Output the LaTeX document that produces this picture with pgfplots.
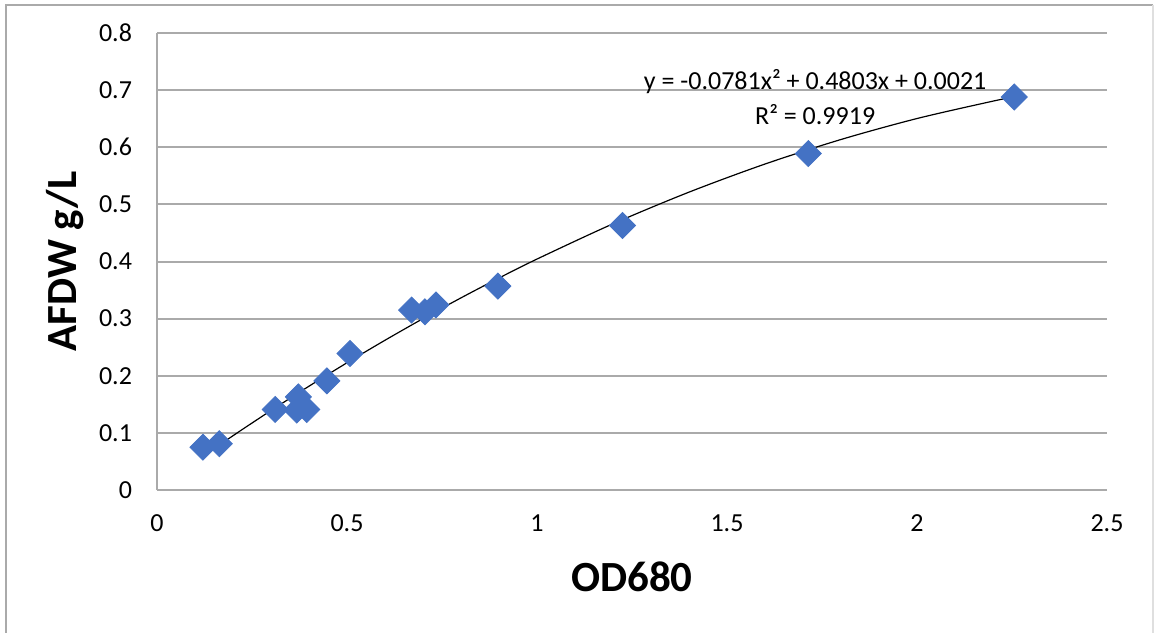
\documentclass[border=0pt]{standalone}
\usepackage{pgfplots}
\pgfplotsset{compat=1.18}
\usepackage{fontspec}
\setmainfont{Carlito}
\definecolor{ptblue}{RGB}{68,114,196}
\definecolor{gridgray}{RGB}{170,170,170}
\begin{document}
\begin{tikzpicture}
\useasboundingbox (0,0) rectangle (577pt,316pt);
\draw[gridgray, line width=1pt] (3pt,-5pt) -- (3pt,313.5pt) -- (576.5pt,313.5pt);
\draw[gray!25, line width=1pt] (576.5pt,313.5pt) -- (576.5pt,-5pt);
\begin{axis}[
  at={(78.5pt,71pt)}, anchor=south west,
  scale only axis, width=475pt, height=228.5pt,
  xmin=0, xmax=2.5, ymin=0, ymax=0.8,
  xtick={0,0.5,...,2.5}, ytick={0,0.1,...,0.8},
  xticklabels={0,0.5,1,1.5,2,2.5},
  yticklabels={0,0.1,0.2,0.3,0.4,0.5,0.6,0.7,0.8},
  axis x line*=bottom, axis y line*=left,
  axis line style={gridgray, line width=1pt, -},
  ymajorgrids, major grid style={gridgray, line width=1pt},
  major tick length=0pt,
  tick label style={font=\fontsize{13}{15}\selectfont},
  xticklabel style={yshift=-9pt},
  yticklabel style={xshift=-9pt},
  xlabel={OD680}, ylabel={AFDW g/L},
  label style={font=\fontsize{21.5}{24}\selectfont\bfseries},
  xlabel style={at={(axis description cs:0.5,-0.190)}, anchor=center},
  ylabel style={at={(axis description cs:-0.0968,0.5)}, anchor=center},
  clip=false,
]
\addplot[only marks, mark=square*, mark size=4.6pt, mark options={rotate=45, fill=ptblue, draw=ptblue}, color=ptblue] coordinates {
(0.121,0.075) (0.164,0.081) (0.311,0.141) (0.372,0.163) (0.368,0.140)
(0.394,0.141) (0.447,0.191) (0.508,0.239) (0.670,0.315) (0.705,0.312)
(0.734,0.324) (0.897,0.357) (1.225,0.463) (1.714,0.589) (2.256,0.688)
};
\addplot[black, line width=0.6pt, smooth] coordinates {
(0.12,0.05861) (0.2,0.09504) (0.3,0.13916) (0.4,0.18172) (0.5,0.22273)
(0.6,0.26216) (0.7,0.30004) (0.8,0.33636) (0.9,0.37111) (1.0,0.40430)
(1.2,0.46600) (1.4,0.52144) (1.6,0.57064) (1.8,0.61360) (2.0,0.65030)
(2.2,0.68076) (2.256,0.68817)
};
\node[font=\fontsize{13}{15}\selectfont, anchor=center] at (axis cs:1.732,0.715) {y = -0.0781x² + 0.4803x + 0.0021};
\node[font=\fontsize{13}{15}\selectfont, anchor=center] at (axis cs:1.732,0.657) {R² = 0.9919};
\end{axis}
\end{tikzpicture}
\end{document}
